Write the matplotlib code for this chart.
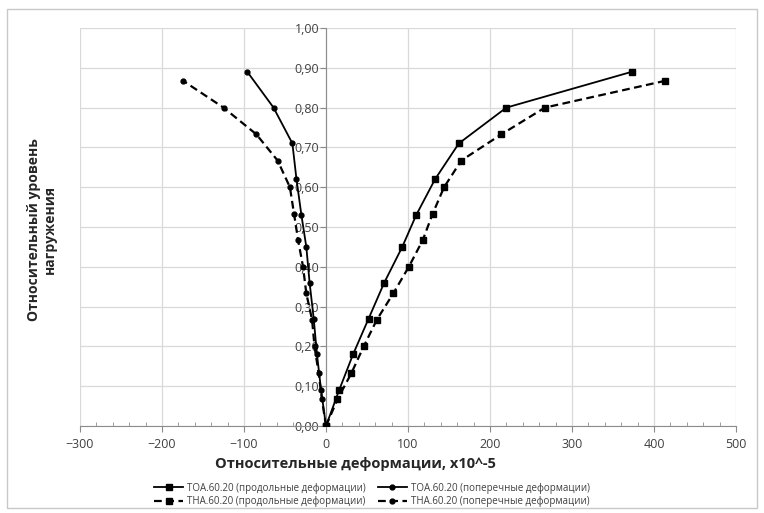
import numpy as np
import matplotlib
matplotlib.use("Agg")
import matplotlib.pyplot as plt
from matplotlib.ticker import MultipleLocator, FuncFormatter
from matplotlib.lines import Line2D
from matplotlib.patches import Rectangle

plt.rcParams['font.family'] = ['Open Sans', 'DejaVu Sans']

# уровни нагружения
load_toa = [0.0, 0.09, 0.18, 0.27, 0.36, 0.45, 0.53, 0.62, 0.71, 0.80, 0.89]
load_tha = [0.0, 0.067, 0.133, 0.20, 0.267, 0.333, 0.40, 0.467, 0.533,
            0.60, 0.667, 0.733, 0.80, 0.867]

# относительные деформации, x10^-5
toa_long = [0, 16, 33, 52, 71, 93, 110, 133, 162, 220, 373]
toa_trans = [0, -6, -11, -15, -20, -24, -30, -36, -41, -64, -96]
tha_long = [0, 14, 31, 46, 62, 82, 101, 118, 130, 144, 165, 214, 267, 413]
tha_trans = [0, -5, -9, -14, -17, -24, -28, -34, -39, -44, -59, -85, -125, -174]

lbl_toa_long = "ТОА.60.20 (продольные деформации)"
lbl_toa_trans = "ТОА.60.20 (поперечные деформации)"
lbl_tha_long = "ТНА.60.20 (продольные деформации)"
lbl_tha_trans = "ТНА.60.20 (поперечные деформации)"

W, H = 764, 513
fig = plt.figure(figsize=(W / 100, H / 100), dpi=100)
ax = fig.add_axes([80 / W, 87 / H, 656 / W, 398 / H])

dash = (0, (3.5, 2))
ax.plot(toa_long, load_toa, '-', color='black', lw=1.3, marker='s', ms=5,
        label=lbl_toa_long, zorder=5)
ax.plot(tha_long, load_tha, linestyle=dash, color='black', lw=1.6, marker='s',
        ms=5, label=lbl_tha_long, zorder=5)
ax.plot(toa_trans, load_toa, '-', color='black', lw=1.3, marker='o', ms=3.5,
        label=lbl_toa_trans, zorder=5)
ax.plot(tha_trans, load_tha, linestyle=dash, color='black', lw=1.6, marker='o',
        ms=3.5, label=lbl_tha_trans, zorder=5)

ax.set_xlim(-300, 500)
ax.set_ylim(0, 1.0)
ax.xaxis.set_major_locator(MultipleLocator(100))
ax.xaxis.set_minor_locator(MultipleLocator(20))
ax.yaxis.set_major_locator(MultipleLocator(0.1))
ax.yaxis.set_major_formatter(FuncFormatter(lambda v, p: f"{v:.2f}".replace('.', ',')))

ax.grid(True, which='major', color='#d9d9d9', lw=0.9)
ax.set_axisbelow(True)

for s in ['top', 'right']:
    ax.spines[s].set_visible(False)
ax.spines['left'].set_position(('data', 0))
ax.spines['left'].set_color('#8c8c8c')
ax.spines['bottom'].set_color('#8c8c8c')

ax.tick_params(axis='x', which='major', direction='out', length=4,
               color='#8c8c8c', labelsize=9, labelcolor='#404040', pad=5)
ax.tick_params(axis='x', which='minor', direction='in', length=3, color='#8c8c8c')
ax.tick_params(axis='y', which='major', direction='out', length=4,
               color='#8c8c8c', labelsize=9, labelcolor='#404040', pad=1)

fig.text(355 / W, 1 - 464 / H, "Относительные деформации, x10^-5",
         ha='center', va='center', fontsize=10.5, fontweight='bold', color='#262626')
fig.text(42 / W, 1 - 230 / H, "Относительный уровень\nнагружения",
         ha='center', va='center', rotation=90, fontsize=10,
         fontweight='bold', color='#262626', linespacing=1.1)

handles = [
    Line2D([], [], color='black', lw=1.3, marker='s', ms=5),
    Line2D([], [], color='black', lw=1.6, linestyle=dash, marker='s', ms=5),
    Line2D([], [], color='black', lw=1.3, marker='o', ms=3.5),
    Line2D([], [], color='black', lw=1.6, linestyle=dash, marker='o', ms=3.5),
]
labels = [lbl_toa_long, lbl_tha_long, lbl_toa_trans, lbl_tha_trans]
fig.legend(handles, labels, ncol=2, loc='center', bbox_to_anchor=(372 / W, 1 - 495 / H),
           frameon=False, fontsize=7, handlelength=3, handletextpad=0.4,
           columnspacing=1.2, labelspacing=0.25, labelcolor='#404040')

fig.patches.append(Rectangle((7 / W, 1 - 508 / H), 750 / W, 499 / H,
                             transform=fig.transFigure, fill=False,
                             edgecolor='#c8c8c8', lw=1.0))

fig.savefig("out.png", dpi=100)
